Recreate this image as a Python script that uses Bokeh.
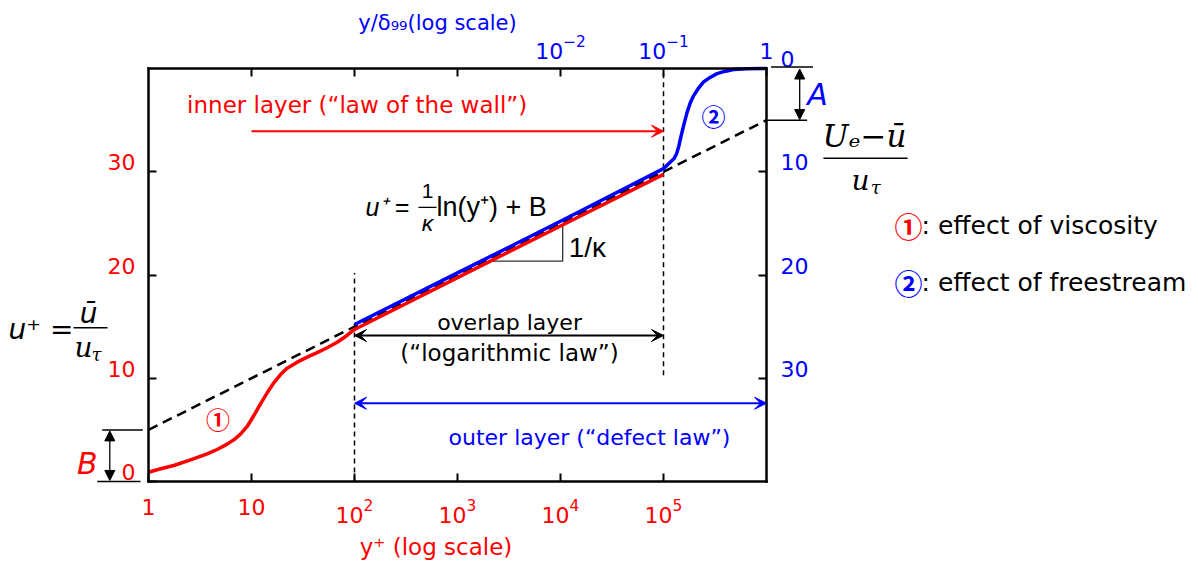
from bokeh.plotting import figure
from bokeh.models import (Range1d, LogAxis, LinearAxis, FixedTicker, LogTickFormatter,
                          LogScale, Label, Arrow, NormalHead, VeeHead)
from bokeh.embed import file_html
from bokeh.resources import INLINE

# ---------------- data ----------------
# red curve: law of the wall (viscous sublayer + buffer + log region)
wall_yplus = [1, 1.31, 1.76, 2.56, 3.71, 4.64, 5.80, 6.74, 7.82, 9.08, 10.54, 12.23, 14.2,
              16.48, 19.12, 22.2, 27.8, 34.7, 43.4, 54.3, 67.9, 81.8, 94.9, 100, 1e3, 1e4, 1e5]
wall_uplus = [0.9, 1.23, 1.55, 2.1, 2.68, 3.10, 3.62, 4.04, 4.58, 5.33, 6.39, 7.52, 8.59,
              9.56, 10.36, 10.98, 11.56, 12.04, 12.49, 12.95, 13.49, 14.04, 14.56, 14.72,
              19.75, 24.75, 29.75]
# blue curve: outer layer (log region + wake)
outer_yplus = [100, 1e3, 1e4, 1e5, 1.12e5, 1.26e5, 1.34e5, 1.41e5, 1.46e5, 1.51e5, 1.6e5, 1.7e5,
               1.83e5, 1.97e5, 2.2e5, 2.45e5, 2.86e5, 3.31e5, 4.0e5, 4.79e5, 6.5e5, 1e6]
outer_uplus = [15.2, 20.2, 25.2, 30.3, 30.77, 31.25, 31.74, 32.5, 33.19, 33.8, 34.8, 35.8,
               36.74, 37.4, 38.13, 38.7, 39.16, 39.5, 39.74, 39.9, 39.97, 40.0]
# dashed log law u+ = (1/k) ln(y+) + B  (B = 5)
loglaw_yplus = [1, 1e6]
loglaw_uplus = [5, 35]
# layer limits (vertical dashed lines)
limit_yplus = [100, 1e5]
limit_ulow = [0, 10.3]
limit_uhigh = [20.2, 40]
# slope triangle
tri_yplus = [2090, 1.05e4, 1.05e4]
tri_uplus = [21.35, 21.35, 25.0]

bottom_ticks = [1, 10, 100, 1e3, 1e4, 1e5]
top_ticks = [1e-2, 1e-1, 1]
top_minor_ticks = [1e-5, 1e-4, 1e-3]
left_ticks = [0, 10, 20, 30]
right_ticks = [0, 10, 20, 30]

RED = "#ff0000"
BLUE = "#0000ff"
SANS = "DejaVu Sans"

# ---------------- geometry ----------------
W, H = 1198, 564
BL, BR, BT, BB = 148, 432, 68, 83          # room around the plot box
XMIN, XMAX = 1, 1e6                         # y+ (log)
YMIN, YMAX = 0, 40                          # u+
DELTA_SCALE = 1e6                           # y/delta99 = y+ / 1e6
DEC_PX = (W - BL - BR) / 6.0
U_PX = (YMAX - YMIN) / (H - BT - BB)
LAB_SHIFT = 0.9                             # vertical tick labels sit a little above their ticks

x0 = XMIN * 10 ** (-BL / DEC_PX)
x1 = XMAX * 10 ** (BR / DEC_PX)
y0 = YMIN - BB * U_PX
y1 = YMAX + BT * U_PX

p = figure(width=W, height=H, x_axis_type="log", output_backend="svg", toolbar_location=None,
           x_range=Range1d(x0, x1), y_range=Range1d(y0, y1), min_border=0,
           x_axis_location=None, y_axis_location=None)
p.title.visible = False
p.outline_line_color = None
p.xgrid.visible = False
p.ygrid.visible = False
p.background_fill_color = "white"
p.border_fill_color = "white"

p.extra_x_ranges = {"delta": Range1d(x0 / DELTA_SCALE, x1 / DELTA_SCALE)}
p.extra_x_scales = {"delta": LogScale()}
p.extra_y_ranges = {
    "defect": Range1d(YMAX - y0, YMAX - y1),
    "u_lab": Range1d(y0 - LAB_SHIFT, y1 - LAB_SHIFT),
    "defect_lab": Range1d(YMAX - y0 + LAB_SHIFT, YMAX - y1 + LAB_SHIFT),
}


def style_axis(ax, color, standoff):
    ax.axis_line_color = "black"
    ax.axis_line_width = 2.5
    ax.axis_line_cap = "square"
    ax.major_tick_in = 8
    ax.major_tick_out = 0
    ax.major_tick_line_width = 2
    ax.major_tick_line_color = "black"
    ax.minor_tick_line_color = None
    ax.major_label_text_color = color
    ax.major_label_text_font = SANS
    ax.major_label_text_font_size = "22px"
    ax.major_label_standoff = standoff


def label_only(ax):
    ax.axis_line_color = None
    ax.major_tick_line_color = None
    ax.minor_tick_line_color = None


xb = LogAxis(ticker=FixedTicker(ticks=bottom_ticks), formatter=LogTickFormatter(min_exponent=2),
             fixed_location=YMIN, bounds=(XMIN, XMAX))
style_axis(xb, RED, 17)
p.add_layout(xb, "below")

xt = LogAxis(x_range_name="delta", ticker=FixedTicker(ticks=top_ticks, minor_ticks=top_minor_ticks),
             formatter=LogTickFormatter(min_exponent=1), fixed_location=YMAX,
             bounds=(XMIN / DELTA_SCALE, XMAX / DELTA_SCALE))
style_axis(xt, BLUE, 10)
xt.minor_tick_in = 8
xt.minor_tick_out = 0
xt.minor_tick_line_color = "black"
xt.minor_tick_line_width = 2
p.add_layout(xt, "above")

# left axis: line + ticks, and its labels drawn slightly higher
yl = LinearAxis(ticker=FixedTicker(ticks=left_ticks), fixed_location=XMIN, bounds=(YMIN, YMAX))
style_axis(yl, None, 13)
p.add_layout(yl, "left")
yl_lab = LinearAxis(y_range_name="u_lab", ticker=FixedTicker(ticks=left_ticks), fixed_location=XMIN,
                    bounds=(YMIN, YMAX))
style_axis(yl_lab, RED, 13)
label_only(yl_lab)
p.add_layout(yl_lab, "left")

# right axis: velocity defect (Ue - u)/u_tau
yr = LinearAxis(y_range_name="defect", ticker=FixedTicker(ticks=right_ticks), fixed_location=XMAX,
                bounds=(0, YMAX - YMIN))
style_axis(yr, None, 14)
p.add_layout(yr, "right")
yr_lab = LinearAxis(y_range_name="defect_lab", ticker=FixedTicker(ticks=right_ticks),
                    fixed_location=XMAX, bounds=(0, YMAX - YMIN))
style_axis(yr_lab, BLUE, 14)
label_only(yr_lab)
p.add_layout(yr_lab, "right")

# ---------------- curves ----------------
p.line(loglaw_yplus, loglaw_uplus, line_color="black", line_width=2.5, line_dash="10 6")
p.segment(x0=limit_yplus, y0=limit_ulow, x1=limit_yplus, y1=limit_uhigh,
          line_color="black", line_width=1.5, line_dash="5 4")
p.line(tri_yplus, tri_uplus, line_color="#333333", line_width=1.3)
p.line(wall_yplus, wall_uplus, line_color=RED, line_width=3.5, line_join="round")
p.line(outer_yplus, outer_uplus, line_color=BLUE, line_width=3.5, line_join="round")


# ---------------- annotations ----------------
def txt(x, y, s, color="black", size=22, font=SANS, style="normal", align="left", baseline="middle"):
    p.add_layout(Label(x=x, y=y, text=s, text_color=color, text_font_size=f"{size}px",
                       text_font=font, text_font_style=style, text_align=align,
                       text_baseline=baseline))


def arrow(xa, ya, xb_, yb, color, width, start=None, end=None):
    p.add_layout(Arrow(x_start=xa, y_start=ya, x_end=xb_, y_end=yb, line_color=color,
                       line_width=width, start=start, end=end))


def vee(color):
    return VeeHead(size=12, fill_color=color, line_color=color, line_width=1)


def tri(color="black"):
    return NormalHead(size=10, fill_color=color, line_color=color, line_width=1)


# layer arrows
arrow(10, 33.93, 1e5, 33.93, RED, 2, end=vee(RED))
arrow(100, 14.14, 1e5, 14.14, "black", 2, start=vee("black"), end=vee("black"))
arrow(100, 7.58, 1e6, 7.58, BLUE, 2, start=vee(BLUE), end=vee(BLUE))

txt(2.37, 36.42, "inner layer (\u201claw of the wall\u201d)", RED, size=23)
txt(3200, 15.40, "overlap layer", align="center")
txt(3200, 12.49, "(\u201clogarithmic law\u201d)", size=23, align="center")
txt(1.91e4, 4.29, "outer layer (\u201cdefect law\u201d)", BLUE, align="center")

# circled markers
txt(4.74, 6.10, "\u2460", RED, size=24, font="Noto Sans CJK JP", style="bold", align="center")
txt(3.06e5, 35.45, "\u2461", BLUE, size=24, font="Noto Sans CJK JP", style="bold", align="center")

# log-law formula
txt(128, 26.54, "u\u207a =", size=25, font="Liberation Sans", style="italic")
txt(511, 28.09, "1", size=21, font="Liberation Sans", align="center")
arrow(418, 26.54, 625, 26.54, "black", 1.3)
txt(511, 25.0, "\u03ba", size=23, font="Liberation Sans", style="italic", align="center")
txt(625, 26.54, "ln(y\u207a) + B", size=27, font="Liberation Sans")
txt(1.2e4, 22.69, "1/\u03ba", size=28, font="Liberation Sans")

# B offset marker
arrow(0.355, 5.0, 0.88, 5.0, "black", 1.5)
arrow(0.318, 0, 0.836, 0, "black", 1.5)
arrow(0.421, 0.1, 0.421, 4.9, "black", 1.3, start=tri(), end=tri())
txt(0.254, 1.79, "B", RED, size=30, style="italic", align="center")

# A offset marker
arrow(1.107e6, 40.15, 2.83e6, 40.15, "black", 1.5)
arrow(1e6, 35.0, 2.48e6, 35.0, "black", 1.5)
arrow(2.1e6, 39.95, 2.1e6, 35.05, "black", 1.3, start=tri(), end=tri())
txt(3.13e6, 37.53, "A", BLUE, size=30, style="italic", align="center")

# left quantity: u+ = u_bar / u_tau
txt(0.0437, 14.7, "u\u207a =", size=28, style="italic")
txt(0.2615, 16.3, "\u016b", size=28, style="italic", align="center")
arrow(0.187, 14.89, 0.40, 14.89, "black", 1.5)
txt(0.234, 12.98, "u", size=28, font="DejaVu Serif", style="italic", align="center")
txt(0.313, 12.3, "\u03c4", size=18, font="DejaVu Serif", style="italic", align="center")

# right quantity: (U_e - u_bar) / u_tau
txt(8.93e6, 33.51, "U\u2091\u2212\u016b", size=31, font="DejaVu Serif", style="italic", align="center")
arrow(3.57e6, 31.31, 2.34e7, 31.31, "black", 1.5)
txt(8.18e6, 29.15, "u", size=28, font="DejaVu Serif", style="italic", align="center")
txt(1.15e7, 28.45, "\u03c4", size=18, font="DejaVu Serif", style="italic", align="center")

# axis titles
txt(640, 44.45, "y/\u03b4\u2089\u2089(log scale)", BLUE, size=21, align="center")
txt(618, -6.39, "y\u207a (log scale)", RED, size=23, align="center")

# legend
txt(2.39e7, 24.79, "\u2460", RED, size=28, font="Noto Sans CJK JP", style="bold", align="center")
txt(3.2e7, 24.79, ": effect of viscosity", size=25)
txt(2.39e7, 19.27, "\u2461", BLUE, size=28, font="Noto Sans CJK JP", style="bold", align="center")
txt(3.2e7, 19.27, ": effect of freestream", size=25)

open("out.html", "w").write(file_html(p, INLINE))
